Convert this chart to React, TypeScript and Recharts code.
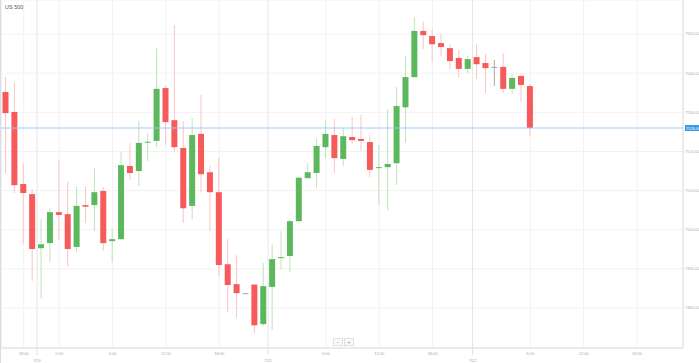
import React from 'react'
import { ComposedChart, Bar, XAxis, YAxis, CartesianGrid, ReferenceLine } from 'recharts'

// hourly OHLC, US 500
const opens = [
  7535.2, 7530.1, 7511.7, 7509.1, 7495.3, 7496.6, 7504.5, 7504.0, 7495.6, 7506.3,
  7506.3, 7509.9, 7497.1, 7497.6, 7516.3, 7515.0, 7522.3, 7522.7, 7536.2, 7528.0,
  7520.9, 7506.1, 7524.5, 7514.7, 7509.6, 7491.2, 7486.1, 7483.8, 7486.0, 7475.9,
  7485.4, 7492.8, 7493.3, 7502.2, 7513.2, 7514.5, 7521.1, 7524.2, 7518.1, 7523.7,
  7523.2, 7522.4, 7515.8, 7516.0, 7517.0, 7531.3, 7539.0, 7550.8, 7549.5, 7547.7,
  7546.4, 7543.9, 7541.1, 7544.1, 7542.6, 7541.6, 7541.6, 7536.0, 7539.3, 7536.7,
]
const highs = [
  7539.0, 7537.7, 7517.0, 7510.4, 7502.7, 7505.5, 7517.8, 7512.2, 7510.9, 7510.9,
  7515.8, 7510.9, 7500.2, 7519.9, 7522.2, 7527.8, 7524.7, 7546.4, 7536.7, 7552.3,
  7527.8, 7528.5, 7534.4, 7516.3, 7518.3, 7497.6, 7493.5, 7483.9, 7486.1, 7491.5,
  7496.3, 7499.7, 7502.5, 7513.5, 7517.0, 7523.4, 7528.0, 7528.3, 7526.0, 7528.8,
  7529.3, 7524.2, 7521.6, 7530.8, 7536.5, 7544.4, 7554.3, 7553.1, 7551.3, 7550.0,
  7547.4, 7545.9, 7544.4, 7547.4, 7544.9, 7543.4, 7545.1, 7539.8, 7539.5, 7537.2,
]
const lows = [
  7514.5, 7509.4, 7496.3, 7486.9, 7482.5, 7491.7, 7497.4, 7490.7, 7494.3, 7501.7,
  7499.7, 7494.6, 7491.7, 7497.4, 7512.7, 7511.2, 7517.6, 7521.1, 7521.6, 7519.9,
  7501.7, 7502.7, 7509.6, 7499.7, 7488.2, 7479.0, 7477.4, 7483.7, 7473.6, 7475.4,
  7474.4, 7490.0, 7489.2, 7502.1, 7513.1, 7510.7, 7518.3, 7514.5, 7516.3, 7521.9,
  7520.1, 7513.5, 7506.3, 7505.0, 7511.4, 7522.2, 7538.9, 7546.2, 7542.8, 7544.4,
  7541.1, 7539.0, 7540.0, 7538.5, 7534.9, 7536.7, 7534.9, 7534.7, 7532.6, 7523.9,
]
const closes = [
  7529.8, 7511.4, 7509.4, 7495.1, 7496.3, 7504.5, 7503.8, 7495.1, 7506.1, 7505.9,
  7509.6, 7496.6, 7497.6, 7516.5, 7514.5, 7522.2, 7522.5, 7536.0, 7527.5, 7521.1,
  7505.5, 7524.2, 7514.2, 7509.6, 7491.0, 7485.9, 7483.8, 7483.8, 7475.6, 7485.6,
  7492.5, 7493.0, 7502.2, 7513.3, 7514.7, 7521.4, 7524.5, 7518.3, 7523.9, 7522.9,
  7522.7, 7515.3, 7516.0, 7516.8, 7531.6, 7539.0, 7550.8, 7549.7, 7547.4, 7546.7,
  7543.1, 7541.1, 7543.6, 7542.3, 7541.3, 7541.6, 7536.0, 7538.8, 7537.0, 7526.0,
]

// slots on the time axis (one per hour, incl. empty future ones)
const SLOTS = 76
const timeTicks = [2, 6, 12, 18, 24, 36, 42, 48, 59, 65, 71]
const timeLabels = ['18:00', '0:00', '6:00', '12:00', '18:00', '6:00', '12:00', '18:00', '6:00', '12:00', '18:00']
const daySlots = [4, 30, 53]
const dayLabels = ['7/19', '7/21', '7/22']
const yTicks = [7480, 7490, 7500, 7510, 7520, 7530, 7540, 7550]

const RED = '#f65a5a'
const RED_WICK = '#f9c4c4'
const GREEN = '#5cb85c'
const GREEN_WICK = '#bfe3ba'
const GRAY = '#a8a8a8'

const data = Array.from({ length: SLOTS }, (_, i) =>
  i < opens.length
    ? { slot: i, o: opens[i], h: highs[i], l: lows[i], c: closes[i], range: [lows[i], highs[i]] }
    : { slot: i },
)

function Candle(props: any) {
  const { x, y, width, height, payload } = props
  if (!payload || payload.o == null) return null
  const { o, h, l, c } = payload
  const top = Math.min(y, y + height)
  const span = Math.abs(height)
  const k = h > l ? span / (h - l) : 0
  const yOf = (v: number) => top + (h - v) * k
  const cx = x + width / 2
  const flat = c === o
  const up = c > o
  const body = flat ? GRAY : up ? GREEN : RED
  const wick = flat ? GRAY : up ? GREEN_WICK : RED_WICK
  const y1 = yOf(Math.max(o, c))
  const y2 = yOf(Math.min(o, c))
  return (
    <g>
      <line x1={cx} x2={cx} y1={top} y2={top + span} stroke={wick} strokeWidth={1} />
      <rect x={x} y={y1} width={width} height={Math.max(1, y2 - y1)} fill={body} />
    </g>
  )
}

function DayLabel({ viewBox, text }: any) {
  if (!viewBox) return null
  const bottom = viewBox.y + viewBox.height
  return (
    <g>
      <line x1={viewBox.x} x2={viewBox.x} y1={bottom} y2={bottom + 7} stroke="#e2e2e2" />
      <text x={viewBox.x} y={bottom + 13.5} textAnchor="middle" fontSize={4} fill="#aaa">
        {text}
      </text>
    </g>
  )
}

function PriceTag({ viewBox, value }: any) {
  if (!viewBox) return null
  const x = viewBox.x + viewBox.width + 2
  return (
    <g>
      <rect x={x} y={viewBox.y - 3} width={14} height={6} fill="#3d9ae8" />
      <text x={x + 1} y={viewBox.y + 1.5} fontSize={4} fill="#fff">
        {value.toFixed(2)}
      </text>
    </g>
  )
}

const last = closes[closes.length - 1]

export default function App() {
  return (
    <div
      style={{
        position: 'absolute',
        left: 0,
        top: 0,
        width: 699,
        height: 363,
        background: '#fff',
        fontFamily: '"Liberation Sans", Arial, sans-serif',
        borderLeft: '1px solid #d4dde8',
        boxSizing: 'border-box',
      }}
    >
      <ComposedChart width={698} height={363} data={data} margin={{ top: 0, right: 0, bottom: 0, left: 0.5 }}>
        <CartesianGrid stroke="#f2f2f2" />
        <XAxis
          dataKey="slot"
          type="category"
          height={15}
          padding={{ left: 0, right: 6 }}
          ticks={timeTicks}
          interval={0}
          tickFormatter={(v: number) => timeLabels[timeTicks.indexOf(v)] ?? ''}
          tickLine={false}
          tickSize={0}
          tickMargin={4}
          axisLine={{ stroke: '#dcdcdc' }}
          tick={{ fontSize: 4, fill: '#aaa' }}
        />
        <YAxis
          orientation="right"
          width={16}
          domain={[7469.8, 7558.7]}
          allowDataOverflow
          ticks={yTicks}
          interval={0}
          tickFormatter={(v: number) => v.toFixed(2)}
          tickLine={false}
          tickSize={0}
          tickMargin={2}
          axisLine={{ stroke: '#dcdcdc' }}
          tick={{ fontSize: 4, fill: '#aaa', textAnchor: 'start' }}
        />
        {daySlots.map((s, i) => (
          <ReferenceLine
            key={s}
            x={s}
            position="start"
            stroke="#e6e6e6"
            label={<DayLabel text={dayLabels[i]} />}
          />
        ))}
        <Bar dataKey="range" barSize={6} shape={(p: any) => <Candle {...p} />} isAnimationActive={false} />
        <ReferenceLine y={last} stroke="#9ecbf3" label={<PriceTag value={last} />} />
      </ComposedChart>
      <div style={{ position: 'absolute', left: 4, top: 4, fontSize: 5.5, color: '#555' }}>US 500</div>
      <div style={{ position: 'absolute', left: 332, top: 338, display: 'flex', gap: 1 }}>
        {['−', '+'].map((t) => (
          <div
            key={t}
            style={{
              width: 8,
              height: 6,
              border: '1px solid #e0e0e0',
              background: '#fafafa',
              fontSize: 5,
              lineHeight: '6px',
              textAlign: 'center',
              color: '#888',
            }}
          >
            {t}
          </div>
        ))}
      </div>
    </div>
  )
}
